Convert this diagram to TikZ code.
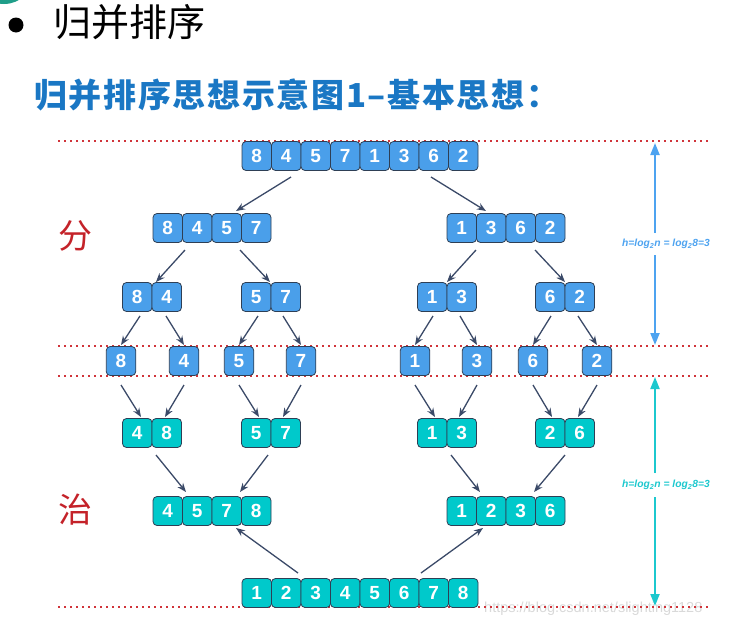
\documentclass[tikz,border=0pt]{standalone}
\usepackage{fontspec}
\setmainfont{Liberation Sans}
\newfontfamily\cjk{Noto Sans CJK SC}
\newfontfamily\cjksub[LetterSpace=5]{Noto Sans CJK SC}
\usetikzlibrary{arrows.meta,calc}
\definecolor{cellblue}{HTML}{4A9FEA}
\definecolor{cellteal}{HTML}{00C9CB}
\definecolor{celledge}{HTML}{2E3F55}
\definecolor{arrowc}{HTML}{3B4A68}
\definecolor{dotred}{HTML}{D0343A}
\definecolor{hblue}{HTML}{4DA3F0}
\definecolor{hteal}{HTML}{1CC8CE}
\definecolor{titleblue}{HTML}{1A77C4}
\definecolor{cnred}{HTML}{C42229}
\definecolor{arcteal}{HTML}{1F9E89}
\newcommand\cellrow[6]{%
  \coordinate (#1) at (#3,#4);
  \foreach \d [count=\i] in {#6} {
    \node[cell, fill=#5] (#1-\i) at ({#3+(\i-(#2+1)/2)*29.5}, #4) {\d};
  }}
\tikzset{
  cell/.style={draw=celledge, line width=0.8pt, rounded corners=4pt,
    minimum width=29.5pt, minimum height=29pt, inner sep=0pt, text=white,
    font=\fontsize{19}{19}\selectfont\bfseries},
  arr/.style={-{Stealth[length=9pt,width=7pt]}, draw=arrowc, line width=1.3pt},
  dotline/.style={draw=dotred, line width=1.4pt, dash pattern=on 1.5pt off 4.5pt},
  harr/.style={-{Triangle[length=12pt,width=9pt]}, line width=2pt},
  hlabel/.style={font=\fontsize{10.3}{11}\selectfont\bfseries\itshape, inner sep=1pt},
  cnchar/.style={font=\cjk\fontsize{34}{34}\selectfont, text=cnred, inner sep=0pt}
}
\begin{document}
\begin{tikzpicture}[x=1pt,y=-1pt]
\useasboundingbox (0,0) rectangle (734,627);
% decoration top-left
\draw[arcteal, line width=4pt] (4,-26) circle (28);
\fill[black] (16,25) circle (7.5);
\node[anchor=west, font=\cjk\fontsize{38}{38}\selectfont, inner sep=0pt] (title) at (53,22) {归并排序};
\node[anchor=west, font=\cjksub\bfseries\fontsize{33}{33}\selectfont, text=titleblue, inner sep=0pt] (subtitle) at (34,95) {归并排序思想示意图1–基本思想：};
% watermark
\node[anchor=west, font=\fontsize{14.5}{15}\selectfont, text=black!15, inner sep=0pt] (wm) at (484,609) {https://blog.csdn.net/slighting1128};
% dotted lines
\coordinate (d1a) at (58,141); \coordinate (d1b) at (712,141);
\coordinate (d2a) at (58,346); \coordinate (d2b) at (712,346);
\coordinate (d3a) at (58,376); \coordinate (d3b) at (712,376);
\coordinate (d4a) at (58,607); \coordinate (d4b) at (712,607);
\draw[dotline] (d1a) -- (d1b);
\draw[dotline] (d2a) -- (d2b);
\draw[dotline] (d3a) -- (d3b);
\draw[dotline] (d4a) -- (d4b);
% labels
\node[cnchar] (fen) at (75,236) {分};
\node[cnchar] (zhi) at (75,510) {治};
% divide
\cellrow{top}{8}{360}{156}{cellblue}{8,4,5,7,1,3,6,2}
\cellrow{L2}{4}{212}{228}{cellblue}{8,4,5,7}
\cellrow{R2}{4}{506}{228}{cellblue}{1,3,6,2}
\cellrow{A84}{2}{152}{297}{cellblue}{8,4}
\cellrow{A57}{2}{271}{297}{cellblue}{5,7}
\cellrow{A13}{2}{447}{297}{cellblue}{1,3}
\cellrow{A62}{2}{565}{297}{cellblue}{6,2}
\cellrow{l8}{1}{121}{361}{cellblue}{8}
\cellrow{l4}{1}{184}{361}{cellblue}{4}
\cellrow{l5}{1}{239}{361}{cellblue}{5}
\cellrow{l7}{1}{301}{361}{cellblue}{7}
\cellrow{l1}{1}{415}{361}{cellblue}{1}
\cellrow{l3}{1}{477}{361}{cellblue}{3}
\cellrow{l6}{1}{533}{361}{cellblue}{6}
\cellrow{l2}{1}{597}{361}{cellblue}{2}
% conquer
\cellrow{B48}{2}{152}{433}{cellteal}{4,8}
\cellrow{B57}{2}{271}{433}{cellteal}{5,7}
\cellrow{B13}{2}{447}{433}{cellteal}{1,3}
\cellrow{B26}{2}{565}{433}{cellteal}{2,6}
\cellrow{C4578}{4}{212}{511}{cellteal}{4,5,7,8}
\cellrow{C1236}{4}{506}{511}{cellteal}{1,2,3,6}
\cellrow{bot}{8}{360}{593}{cellteal}{1,2,3,4,5,6,7,8}
% arrows divide
\draw[arr] ($(top)+(-69,21)$) -- ($(L2)+(24,-17)$);
\draw[arr] ($(top)+(71,21)$) -- ($(R2)+(-20,-17)$);
\draw[arr] ($(L2)+(-27,22)$) -- ($(A84)+(4,-15)$);
\draw[arr] ($(L2)+(28,22)$) -- ($(A57)+(-1,-15)$);
\draw[arr] ($(R2)+(-30,22)$) -- ($(A13)+(0,-15)$);
\draw[arr] ($(R2)+(29,22)$) -- ($(A62)+(0,-15)$);
\draw[arr] ($(A84)+(-12,19)$) -- ($(l8)+(0,-16)$);
\draw[arr] ($(A84)+(14,19)$) -- ($(l4)+(0,-16)$);
\draw[arr] ($(A57)+(-13,19)$) -- ($(l5)+(0,-16)$);
\draw[arr] ($(A57)+(12,19)$) -- ($(l7)+(0,-16)$);
\draw[arr] ($(A13)+(-14,19)$) -- ($(l1)+(0,-16)$);
\draw[arr] ($(A13)+(13,19)$) -- ($(l3)+(0,-16)$);
\draw[arr] ($(A62)+(-14,19)$) -- ($(l6)+(0,-16)$);
\draw[arr] ($(A62)+(13,19)$) -- ($(l2)+(0,-16)$);
% arrows conquer
\draw[arr] ($(l8)+(0,24)$) -- ($(B48)+(-11,-16)$);
\draw[arr] ($(l4)+(0,24)$) -- ($(B48)+(13,-16)$);
\draw[arr] ($(l5)+(0,24)$) -- ($(B57)+(-12,-16)$);
\draw[arr] ($(l7)+(0,24)$) -- ($(B57)+(12,-16)$);
\draw[arr] ($(l1)+(0,24)$) -- ($(B13)+(-12,-16)$);
\draw[arr] ($(l3)+(0,24)$) -- ($(B13)+(12,-16)$);
\draw[arr] ($(l6)+(0,24)$) -- ($(B26)+(-13,-16)$);
\draw[arr] ($(l2)+(0,24)$) -- ($(B26)+(13,-16)$);
\draw[arr] ($(B48)+(4,22)$) -- ($(C4578)+(-26,-19)$);
\draw[arr] ($(B57)+(-3,22)$) -- ($(C4578)+(28,-19)$);
\draw[arr] ($(B13)+(4,22)$) -- ($(C1236)+(-26,-19)$);
\draw[arr] ($(B26)+(0,22)$) -- ($(C1236)+(28,-19)$);
\draw[arr] ($(bot)+(-62,-20)$) -- ($(C4578)+(24,17)$);
\draw[arr] ($(bot)+(61,-20)$) -- ($(C1236)+(-23,17)$);
% height arrows
\node[hlabel, text=hblue] (h1) at (666,244) {h=log\textsubscript{2}n = log\textsubscript{2}8=3};
\node[hlabel, text=hteal] (h2) at (666,485) {h=log\textsubscript{2}n = log\textsubscript{2}8=3};
\coordinate (h1top) at (655,143); \coordinate (h1bot) at (655,345);
\coordinate (h2top) at (655,377); \coordinate (h2bot) at (655,606);
\draw[harr, draw=hblue, fill=hblue] (655,233) -- (h1top);
\draw[harr, draw=hblue, fill=hblue] (655,255) -- (h1bot);
\draw[harr, draw=hteal, fill=hteal] (655,473) -- (h2top);
\draw[harr, draw=hteal, fill=hteal] (655,497) -- (h2bot);
\end{tikzpicture}
\end{document}
